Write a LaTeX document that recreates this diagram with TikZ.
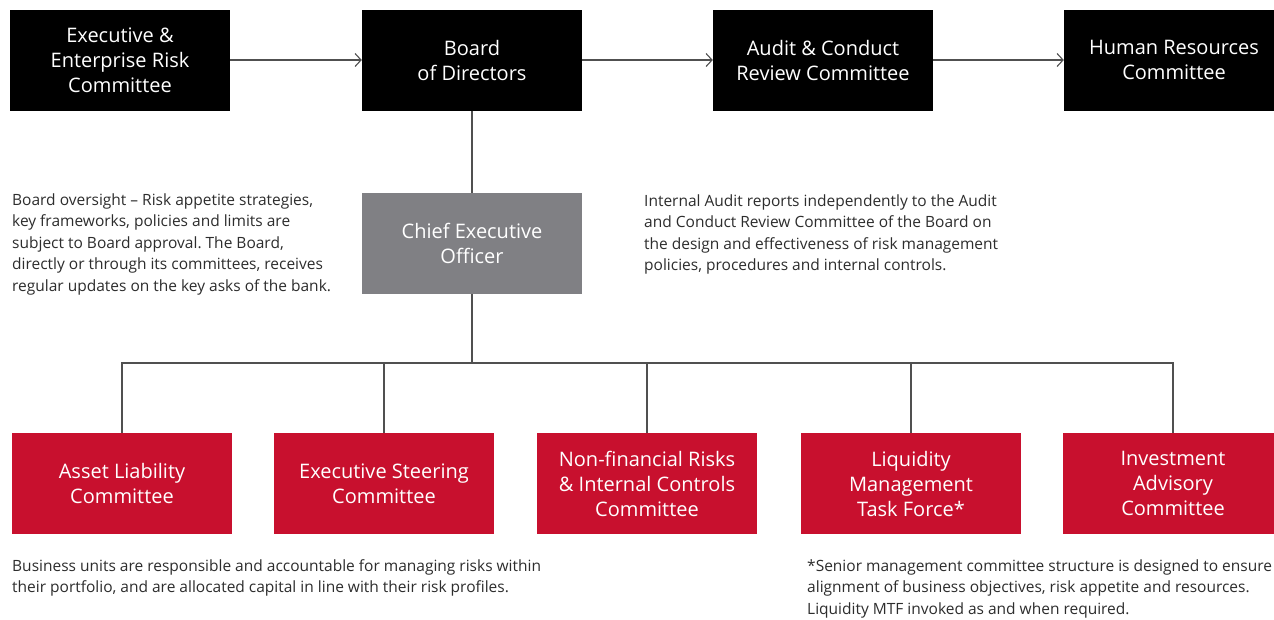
\documentclass[tikz,border=0pt]{standalone}
\usepackage{fontspec}
\setmainfont{Open Sans}
\frenchspacing
\usetikzlibrary{arrows.meta}
\definecolor{sred}{RGB}{200,16,46}
\definecolor{sgray}{RGB}{128,128,132}
\definecolor{lcol}{RGB}{80,80,80}
\definecolor{tcol}{RGB}{45,45,45}
\begin{document}
\begin{tikzpicture}[x=1pt,y=-1pt,
  boxbase/.style={minimum width=220pt,minimum height=101pt,inner sep=0pt,align=center,text=white,font=\fontsize{20}{25}\selectfont},
  blackbox/.style={boxbase,fill=black},
  graybox/.style={boxbase,fill=sgray},
  redbox/.style={boxbase,fill=sred},
  conn/.style={draw=lcol,line width=1.2pt},
  arr/.style={conn,-{Straight Barb[length=6pt,width=13pt,line width=1.1pt]}},
  para/.style={anchor=base west,inner sep=0pt,align=left,text=tcol,font=\fontsize{15.5}{21.5}\selectfont\frenchspacing}]
\useasboundingbox (0,0) rectangle (1274,619);
\fill[white] (0,0) rectangle (1274,619);
% top row
\node[blackbox] (e1) at (120,60) {Executive \&\\Enterprise Risk\\Committee};
\node[blackbox] (board) at (472,60) {Board\\of Directors};
\node[blackbox] (audit) at (823,60) {Audit \& Conduct\\Review Committee};
\node[blackbox] (hr) at (1174,60) {Human Resources\\Committee};
\draw[arr] (e1.east) -- (board.west);
\draw[arr] (board.east) -- (audit.west);
\draw[arr] (audit.east) -- (hr.west);
% CEO
\node[graybox] (ceo) at (472,243.5) {Chief Executive\\Officer};
\draw[conn] (board.south) -- (ceo.north);
% bottom row
\node[redbox] (r1) at (122,483.5) {Asset Liability\\Committee};
\node[redbox] (r2) at (384,483.5) {Executive Steering\\Committee};
\node[redbox] (r3) at (647,483.5) {Non-financial Risks\\\& Internal Controls\\Committee};
\node[redbox] (r4) at (911,483.5) {Liquidity\\Management\\Task Force*};
\node[redbox] (r5) at (1173,483.5) {Investment\\Advisory\\Committee};
\coordinate (bus) at (472,363);
\draw[conn] (ceo.south) -- (bus);
\draw[conn] (r1.north) |- (r5.north |- bus) -- (r5.north);
\draw[conn] (r2.north) -- (r2.north |- bus);
\draw[conn] (r3.north) -- (r3.north |- bus);
\draw[conn] (r4.north) -- (r4.north |- bus);
% paragraphs (anchor = baseline of last line)
\node[para] (p1) at (12,291) {Board oversight – Risk appetite strategies,\\key frameworks, policies and limits are\\subject to Board approval. The Board,\\directly or through its committees, receives\\regular updates on the key asks of the bank.};
\node[para] (p2) at (644,270.5) {Internal Audit reports independently to the Audit\\and Conduct Review Committee of the Board on\\the design and effectiveness of risk management\\policies, procedures and internal controls.};
\node[para] (p3) at (12,592.5) {Business units are responsible and accountable for managing risks within\\their portfolio, and are allocated capital in line with their risk profiles.};
\node[para] (p4) at (807,614) {*Senior management committee structure is designed to ensure\\alignment of business objectives, risk appetite and resources.\\Liquidity MTF invoked as and when required.};
\end{tikzpicture}
\end{document}
